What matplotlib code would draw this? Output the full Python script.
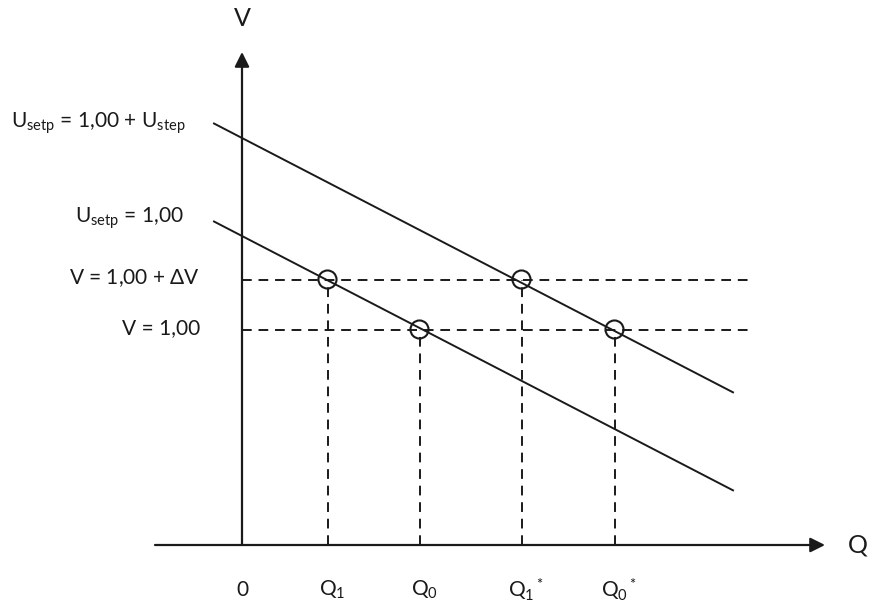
import numpy as np
import matplotlib
matplotlib.use('Agg')
import matplotlib.pyplot as plt

plt.rcParams['font.family'] = ['Lato', 'DejaVu Sans']
plt.rcParams['mathtext.default'] = 'regular'

# droop lines: V at Q=0 for the two setpoints, common slope
setp_labels = [r'U$_{setp}$ = 1,00 + U$_{step}$', r'U$_{setp}$ = 1,00']
setp_v0 = [407, 309]
droop = 0.518
q_range = [-28, 491]

# voltage levels (dashed horizontals)
v_levels = [265, 215]
v_labels = [r'V = 1,00 + $\Delta$V', 'V = 1,00']

# reactive power points, [line][level]
q_points = [[280, 373], [86, 178]]
q_names = [[r'Q$_1$$^*$', r'Q$_0$$^*$'], [r'Q$_1$', r'Q$_0$']]

ink = '#1a1a1a'
dash = (0, (5, 3.5))

fig = plt.figure(figsize=(8.72, 6.06), dpi=100)
ax = fig.add_axes([0, 0, 1, 1])
ax.set_xlim(-242, 630)
ax.set_ylim(-61, 545)
ax.axis('off')

# axes with arrows
ax.annotate('', xy=(0, 493), xytext=(0, 0),
            arrowprops=dict(arrowstyle='-|>', color=ink, lw=1.6,
                            mutation_scale=22, shrinkA=0, shrinkB=0))
ax.annotate('', xy=(583, 0), xytext=(-87, 0),
            arrowprops=dict(arrowstyle='-|>', color=ink, lw=1.6,
                            mutation_scale=22, shrinkA=0, shrinkB=0))
ax.text(0, 526, 'V', ha='center', va='center', fontsize=18, color=ink)
ax.text(616, 0, 'Q', ha='center', va='center', fontsize=18, color=ink)
ax.text(0, -45, '0', ha='center', va='center', fontsize=15, color=ink)

# dashed voltage levels
for v, lab in zip(v_levels, v_labels):
    ax.plot([0, 508], [v, v], color=ink, lw=1.4, ls=dash)
    ax.text(-42, v + 2, lab, ha='right', va='center', fontsize=15, color=ink)

# droop lines and their crossings
q = np.array(q_range)
for i, (v0, lab) in enumerate(zip(setp_v0, setp_labels)):
    ax.plot(q, v0 - droop * q, color=ink, lw=1.4)
    if i == 0:
        ax.text(-231, v0 - droop * q[0], lab, ha='left', va='center',
                fontsize=15, color=ink)
    else:
        ax.text(-58, v0 - droop * q[0] + 3, lab, ha='right', va='center',
                fontsize=15, color=ink)
    for j, v in enumerate(v_levels):
        qc = q_points[i][j]
        ax.plot([qc, qc], [0, v], color=ink, lw=1.4, ls=dash)
        ax.plot(qc - 1, v + 1, 'o', ms=13, mfc='none', mec=ink, mew=1.5)
        ax.text(qc + 4, -45, q_names[i][j], ha='center', va='center',
                fontsize=15, color=ink)

fig.savefig('out.png', dpi=100, facecolor='white')
